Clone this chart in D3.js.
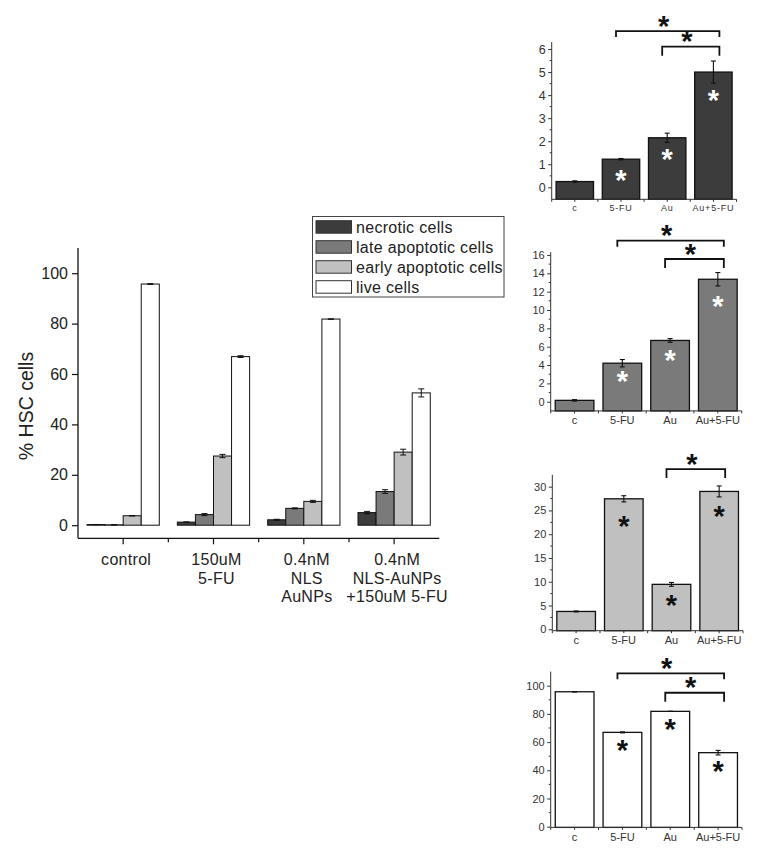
<!DOCTYPE html>
<html>
<head>
<meta charset="utf-8">
<script src="https://cdn.jsdelivr.net/npm/d3@7"></script>
<style>
  html, body { margin: 0; padding: 0; background: #fff; }
  svg { display: block; font-family: Arial, "Liberation Sans", sans-serif; }
</style>
</head>
<body>
<svg id="chart" width="764" height="857"></svg>
<script>
// ---------------- DATA ----------------
const categories = ["control", "150uM\n5-FU", "0.4nM\nNLS\nAuNPs", "0.4nM\nNLS-AuNPs\n+150uM 5-FU"];
const panelCategories = ["c", "5-FU", "Au", "Au+5-FU"];
const seriesNames = ["necrotic cells", "late apoptotic cells", "early apoptotic cells", "live cells"];

const necrotic        = [0.25, 1.22, 2.15, 5.0];
const necroticErr     = [0.03, 0.03, 0.2, 0.48];
const lateApoptotic   = [0.15, 4.2, 6.68, 13.35];
const lateApoptoticErr= [0.08, 0.4, 0.2, 0.73];
const earlyApoptotic  = [3.75, 27.45, 9.45, 29.0];
const earlyApoptoticErr=[0.1, 0.65, 0.4, 1.15];
const live            = [95.7, 66.9, 81.8, 52.5];
const liveErr         = [0.15, 0.35, 0.05, 1.6];

const mainYTicks = [0, 20, 40, 60, 80, 100];
const necroticTicks = [0, 1, 2, 3, 4, 5, 6];
const lateTicks = [0, 2, 4, 6, 8, 10, 12, 14, 16];
const earlyTicks = [0, 5, 10, 15, 20, 25, 30];
const liveTicks = [0, 20, 40, 60, 80, 100];

// significance brackets: [from, to, level (data units)]
const necroticBrackets = [["5-FU", "Au+5-FU", 6.78], ["Au", "Au+5-FU", 6.10]];
const lateBrackets     = [["5-FU", "Au+5-FU", 17.56], ["Au", "Au+5-FU", 15.56]];
const earlyBrackets    = [["Au", "Au+5-FU", 33.7]];
const liveBrackets     = [["5-FU", "Au+5-FU", 108.8], ["Au", "Au+5-FU", 95.0]];

// in-bar significance stars: [category, level (data units)]
const necroticStars = [["5-FU", 0.46], ["Au", 1.37], ["Au+5-FU", 3.93]];
const lateStars     = [["5-FU", 2.55], ["Au", 4.84], ["Au+5-FU", 10.73]];
const earlyStars    = [["5-FU", 22.4], ["Au", 5.68], ["Au+5-FU", 24.4]];
const liveStars     = [["5-FU", 56.7], ["Au", 71.4], ["Au+5-FU", 41.8]];

// ---------------- STYLE ----------------
const colors = ["#3c3c3c", "#7a7a7a", "#c0c0c0", "#ffffff"];
const seriesValues = [necrotic, lateApoptotic, earlyApoptotic, live];
const seriesErrors = [necroticErr, lateApoptoticErr, earlyApoptoticErr, liveErr];
const STAR_SIZE = 29;
const STAR_SHIFT = STAR_SIZE * 0.45; // baseline offset to centre the asterisk glyph

const svg = d3.select("#chart");

// ---------------- MAIN CHART ----------------
const main = svg.append("g");
const x0 = d3.scaleBand().domain(categories).range([78, 439.3]).paddingInner(0.2).paddingOuter(0.1);
const x1 = d3.scaleBand().domain(seriesNames).range([0, x0.bandwidth()]);
const y = d3.scaleLinear().domain([-5.2, 110]).range([538.3, 248]);

const rows = categories.map((c, i) => ({ cat: c, vals: seriesNames.map((s, k) => ({ s, k, v: seriesValues[k][i], e: seriesErrors[k][i] })) }));

const groups = main.selectAll("g.grp").data(rows).join("g")
  .attr("transform", d => `translate(${x0(d.cat)},0)`);

groups.selectAll("rect").data(d => d.vals).join("rect")
  .attr("x", d => x1(d.s))
  .attr("width", x1.bandwidth())
  .attr("y", d => y(Math.max(0, d.v)))
  .attr("height", d => Math.abs(y(d.v) - y(0)))
  .attr("fill", d => colors[d.k])
  .attr("stroke", "#111")
  .attr("stroke-width", 1);

// error bars
const eb = groups.selectAll("g.eb").data(d => d.vals).join("g").attr("class", "eb")
  .attr("stroke", "#111").attr("stroke-width", 1);
eb.append("line")
  .attr("x1", d => x1(d.s) + x1.bandwidth() / 2).attr("x2", d => x1(d.s) + x1.bandwidth() / 2)
  .attr("y1", d => y(d.v + d.e)).attr("y2", d => y(d.v - d.e));
eb.append("line")
  .attr("x1", d => x1(d.s) + x1.bandwidth() / 2 - 3).attr("x2", d => x1(d.s) + x1.bandwidth() / 2 + 3)
  .attr("y1", d => y(d.v + d.e)).attr("y2", d => y(d.v + d.e));
eb.append("line")
  .attr("x1", d => x1(d.s) + x1.bandwidth() / 2 - 3).attr("x2", d => x1(d.s) + x1.bandwidth() / 2 + 3)
  .attr("y1", d => y(d.v - d.e)).attr("y2", d => y(d.v - d.e));

// y axis
const yAxisG = main.append("g").attr("transform", "translate(78,0)")
  .call(d3.axisLeft(y).tickValues(mainYTicks).tickSize(6).tickPadding(4));
yAxisG.select(".domain").attr("d", `M0,${y(110)}V${y(-5.2)}`).attr("stroke", "#111").attr("stroke-width", 1.3);
yAxisG.selectAll(".tick line").attr("stroke", "#111").attr("stroke-width", 1.2);
yAxisG.selectAll(".tick text").attr("font-size", 16).attr("fill", "#222")
  .attr("font-family", "Arial, 'Liberation Sans', sans-serif");

// x axis
const xAxisG = main.append("g").attr("transform", `translate(0,${y(-5.2)})`)
  .call(d3.axisBottom(x0).tickSize(6).tickFormat(""));
xAxisG.select(".domain").attr("d", `M78,0H439.3`).attr("stroke", "#111").attr("stroke-width", 1.3);
xAxisG.selectAll(".tick line").attr("stroke", "#111").attr("stroke-width", 1.2);
const step0 = x0.step();
xAxisG.selectAll("line.minor").data(categories.slice(1)).join("line").attr("class", "minor")
  .attr("x1", d => x0(d) + x0.bandwidth() / 2 - step0 / 2)
  .attr("x2", d => x0(d) + x0.bandwidth() / 2 - step0 / 2)
  .attr("y1", 0).attr("y2", 4).attr("stroke", "#111").attr("stroke-width", 1.2);

// multi-line category labels
main.selectAll("text.cat").data(categories).join("text").attr("class", "cat")
  .attr("text-anchor", "middle").attr("font-size", 16).attr("fill", "#222")
  .attr("letter-spacing", 0.3)
  .each(function (d) {
    const t = d3.select(this);
    d.split("\n").forEach((line, i) => {
      t.append("tspan").attr("x", x0(d) + x0.bandwidth() / 2 + 3).attr("y", 565 + i * 18.6).text(line);
    });
  });

// y title
main.append("text")
  .attr("transform", "translate(33,406) rotate(-90)")
  .attr("text-anchor", "middle").attr("font-size", 19.5).attr("fill", "#222")
  .text("% HSC cells");

// legend
const legend = svg.append("g");
legend.append("rect").attr("x", 312.5).attr("y", 216.5).attr("width", 191.5).attr("height", 80.5)
  .attr("fill", "#fff").attr("stroke", "#444").attr("stroke-width", 1);
const li = legend.selectAll("g.li").data(seriesNames).join("g")
  .attr("transform", (d, i) => `translate(316,${220.7 + i * 20})`);
li.append("rect").attr("width", 35.5).attr("height", 12.5)
  .attr("fill", (d, i) => colors[i]).attr("stroke", "#333").attr("stroke-width", 1);
li.append("text").attr("x", 40).attr("y", 12).attr("font-size", 16).attr("fill", "#222")
  .attr("letter-spacing", 0.3).text(d => d);

// ---------------- SMALL PANELS ----------------
function drawPanel(cfg) {
  const g = svg.append("g");
  const xs = d3.scaleBand().domain(panelCategories).range(cfg.xRange).paddingInner(0.19).paddingOuter(0.095);
  const ys = d3.scaleLinear().domain(cfg.yDomain).range(cfg.yRange);
  const data = panelCategories.map((c, i) => ({ c, v: cfg.values[i], e: cfg.errors[i] }));
  const cx = c => xs(c) + xs.bandwidth() / 2;

  g.selectAll("rect.bar").data(data).join("rect").attr("class", "bar")
    .attr("x", d => xs(d.c)).attr("width", xs.bandwidth())
    .attr("y", d => ys(d.v)).attr("height", d => ys(cfg.yDomain[0]) - ys(d.v))
    .attr("fill", cfg.color).attr("stroke", "#111").attr("stroke-width", 1.3);

  const eb = g.selectAll("g.eb").data(data).join("g").attr("stroke", "#111").attr("stroke-width", 1.1);
  eb.append("line").attr("x1", d => cx(d.c)).attr("x2", d => cx(d.c))
    .attr("y1", d => ys(d.v + d.e)).attr("y2", d => ys(d.v - d.e));
  eb.append("line").attr("x1", d => cx(d.c) - 2.5).attr("x2", d => cx(d.c) + 2.5)
    .attr("y1", d => ys(d.v + d.e)).attr("y2", d => ys(d.v + d.e));
  eb.append("line").attr("x1", d => cx(d.c) - 2.5).attr("x2", d => cx(d.c) + 2.5)
    .attr("y1", d => ys(d.v - d.e)).attr("y2", d => ys(d.v - d.e));

  // y axis
  const ya = g.append("g").attr("transform", `translate(${cfg.xRange[0]},0)`)
    .call(d3.axisLeft(ys).tickValues(cfg.ticks).tickFormat(d => String(d)).tickSize(3.5).tickPadding(2.5));
  ya.select(".domain").attr("d", `M0,${ys(cfg.yDomain[1])}V${ys(cfg.yDomain[0])}`).attr("stroke", "#333");
  ya.selectAll(".tick line").attr("stroke", "#333");
  ya.selectAll(".tick text").attr("font-size", cfg.yFont).attr("fill", "#333")
    .attr("font-family", "Arial, 'Liberation Sans', sans-serif");
  const tstep = cfg.ticks[1] - cfg.ticks[0];
  const minors = cfg.ticks.slice(0, -1).map(t => t + tstep / 2);
  ya.selectAll("line.minor").data(minors).join("line").attr("class", "minor")
    .attr("x1", -2).attr("x2", 0).attr("y1", d => ys(d)).attr("y2", d => ys(d)).attr("stroke", "#333");

  // x axis
  const base = ys(cfg.yDomain[0]);
  const xa = g.append("g").attr("transform", `translate(0,${base})`)
    .call(d3.axisBottom(xs).tickSize(2.5).tickPadding(3));
  xa.select(".domain").attr("d", `M${cfg.xRange[0]},0H${cfg.xRange[1]}`).attr("stroke", "#333");
  xa.selectAll(".tick line").attr("stroke", "#333");
  xa.selectAll(".tick text").attr("font-size", cfg.xFont).attr("fill", "#333")
    .attr("letter-spacing", cfg.xSpacing)
    .attr("font-family", "Arial, 'Liberation Sans', sans-serif");
  const st = xs.step();
  xa.selectAll("line.minor").data(panelCategories.concat(["end"])).join("line").attr("class", "minor")
    .attr("x1", (d, i) => cfg.xRange[0] + i * st).attr("x2", (d, i) => cfg.xRange[0] + i * st)
    .attr("y1", 0).attr("y2", 2.5).attr("stroke", "#333");

  // brackets
  cfg.brackets.forEach(([a, b, lvl], i) => {
    const yl = ys(lvl);
    const drop = i === 0 && cfg.brackets.length > 1 ? 6 : 9;
    const xa1 = cx(a) - 5, xb1 = cx(b) + 6;
    g.append("path").attr("d", `M${xa1},${yl + drop}V${yl}H${xb1}V${yl + drop}`)
      .attr("fill", "none").attr("stroke", "#111").attr("stroke-width", 1.8);
    g.append("text").attr("x", (xa1 + xb1) / 2 - 4).attr("y", yl - 8.5 + STAR_SHIFT)
      .attr("text-anchor", "middle").attr("font-size", STAR_SIZE).attr("font-weight", "bold")
      .attr("fill", "#111").text("*");
  });

  // in-bar stars
  g.selectAll("text.star").data(cfg.stars).join("text").attr("class", "star")
    .attr("x", d => cx(d[0])).attr("y", d => ys(d[1]) + STAR_SHIFT)
    .attr("text-anchor", "middle").attr("font-size", STAR_SIZE).attr("font-weight", "bold")
    .attr("fill", cfg.starColor).text("*");
}

drawPanel({ values: necrotic, errors: necroticErr, color: colors[0], xRange: [551.7, 736.5],
  yDomain: [-0.52, 6.3], yRange: [199.3, 42.1], ticks: necroticTicks, yFont: 12.5,
  xFont: 9, xSpacing: 0.8, brackets: necroticBrackets, stars: necroticStars, starColor: "#fff" });
drawPanel({ values: lateApoptotic, errors: lateApoptoticErr, color: colors[1], xRange: [550.7, 741.7],
  yDomain: [-1, 16.3], yRange: [410.9, 252.2], ticks: lateTicks, yFont: 11,
  xFont: 11, xSpacing: 0, brackets: lateBrackets, stars: lateStars, starColor: "#fff" });
drawPanel({ values: earlyApoptotic, errors: earlyApoptoticErr, color: colors[2], xRange: [552.3, 743],
  yDomain: [-0.3, 32.5], yRange: [630.7, 474.8], ticks: earlyTicks, yFont: 11,
  xFont: 11, xSpacing: 0, brackets: earlyBrackets, stars: earlyStars, starColor: "#111" });
drawPanel({ values: live, errors: liveErr, color: colors[3], xRange: [550.7, 742],
  yDomain: [-0.5, 110], yRange: [827.4, 671.6], ticks: liveTicks, yFont: 11,
  xFont: 11, xSpacing: 0, brackets: liveBrackets, stars: liveStars, starColor: "#111" });
</script>
</body>
</html>
